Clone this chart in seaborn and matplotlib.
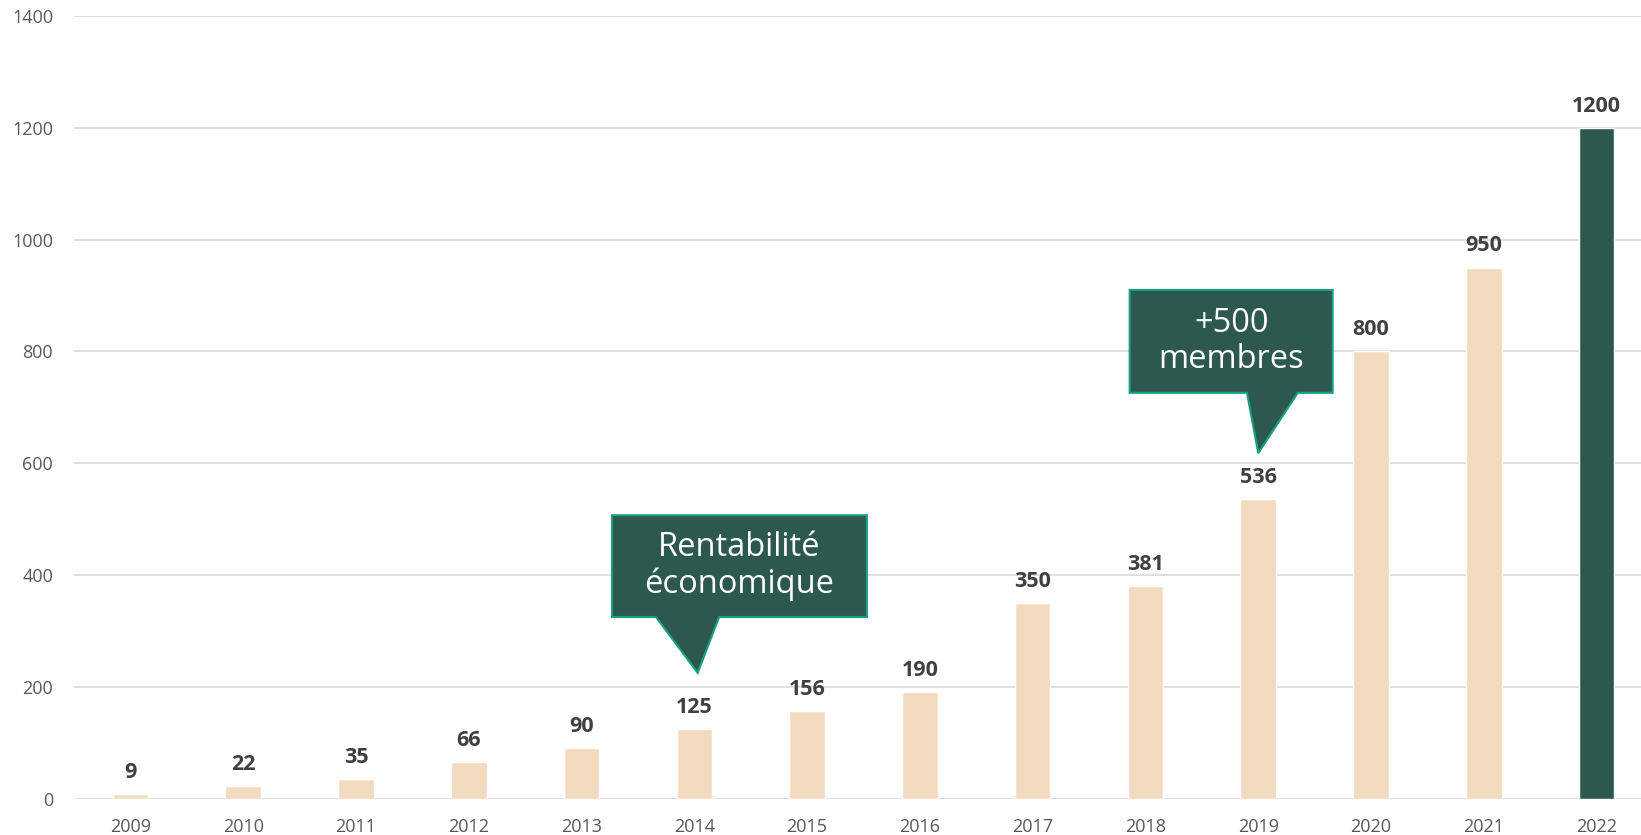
import matplotlib
matplotlib.use("Agg")
import matplotlib.pyplot as plt
import seaborn as sns
import pandas as pd
from matplotlib.patches import Polygon

# données
years = ["2009", "2010", "2011", "2012", "2013", "2014", "2015",
         "2016", "2017", "2018", "2019", "2020", "2021", "2022"]
members = [9, 22, 35, 66, 90, 125, 156, 190, 350, 381, 536, 800, 950, 1200]
y_ticks = [0, 200, 400, 600, 800, 1000, 1200, 1400]

beige = "#F2DBBF"
green = "#2C5850"
border = "#19A07E"
bar_colors = [beige] * (len(years) - 1) + [green]

# bulles : texte, boîte (x0, x1, y0, y1), base de la pointe (xa, xb), pointe (x, y)
callouts = [
    ("Rentabilité\néconomique", (4.27, 6.53, 325, 507), (4.66, 5.22), (5.03, 225)),
    ("+500\nmembres", (8.86, 10.66, 726, 910), (9.90, 10.35), (10.0, 618)),
]

df = pd.DataFrame({"year": years, "members": members})

sns.set_theme(style="white")
plt.rcParams["font.family"] = ["Open Sans", "DejaVu Sans"]

fig = plt.figure(figsize=(16.41, 8.35), dpi=100)
ax = fig.add_axes([74 / 1641, 0.0435, (1653 - 74) / 1641, 0.9373])

sns.barplot(data=df, x="year", y="members", hue="year", palette=bar_colors,
            width=0.315, legend=False, ax=ax, saturation=1)

for c in ax.containers:
    ax.bar_label(c, fmt="%d", padding=8, fontsize=15.5, fontweight="bold", color="#404040")

ax.set_ylim(0, 1400)
ax.set_xlim(-0.5, len(years) - 0.5)
ax.set_yticks(y_ticks)
ax.yaxis.grid(True, color="#D9D9D9", linewidth=1.2)
ax.set_axisbelow(True)
for s in ax.spines.values():
    s.set_visible(False)
ax.tick_params(axis="both", length=0, labelsize=13, labelcolor="#595959")
ax.tick_params(axis="x", pad=14)
ax.tick_params(axis="y", pad=15)
ax.set_xlabel("")
ax.set_ylabel("")

for text, (x0, x1, y0, y1), (xa, xb), (xt, yt) in callouts:
    pts = [(x0, y0), (x0, y1), (x1, y1), (x1, y0), (xb, y0), (xt, yt), (xa, y0)]
    ax.add_patch(Polygon(pts, closed=True, facecolor=green, edgecolor=border,
                         linewidth=1.5, zorder=5))
    ax.text((x0 + x1) / 2, (y0 + y1) / 2, text, ha="center", va="center",
            fontsize=23.5, color="white", linespacing=1.15, zorder=6)

fig.savefig("out.png", dpi=100)
